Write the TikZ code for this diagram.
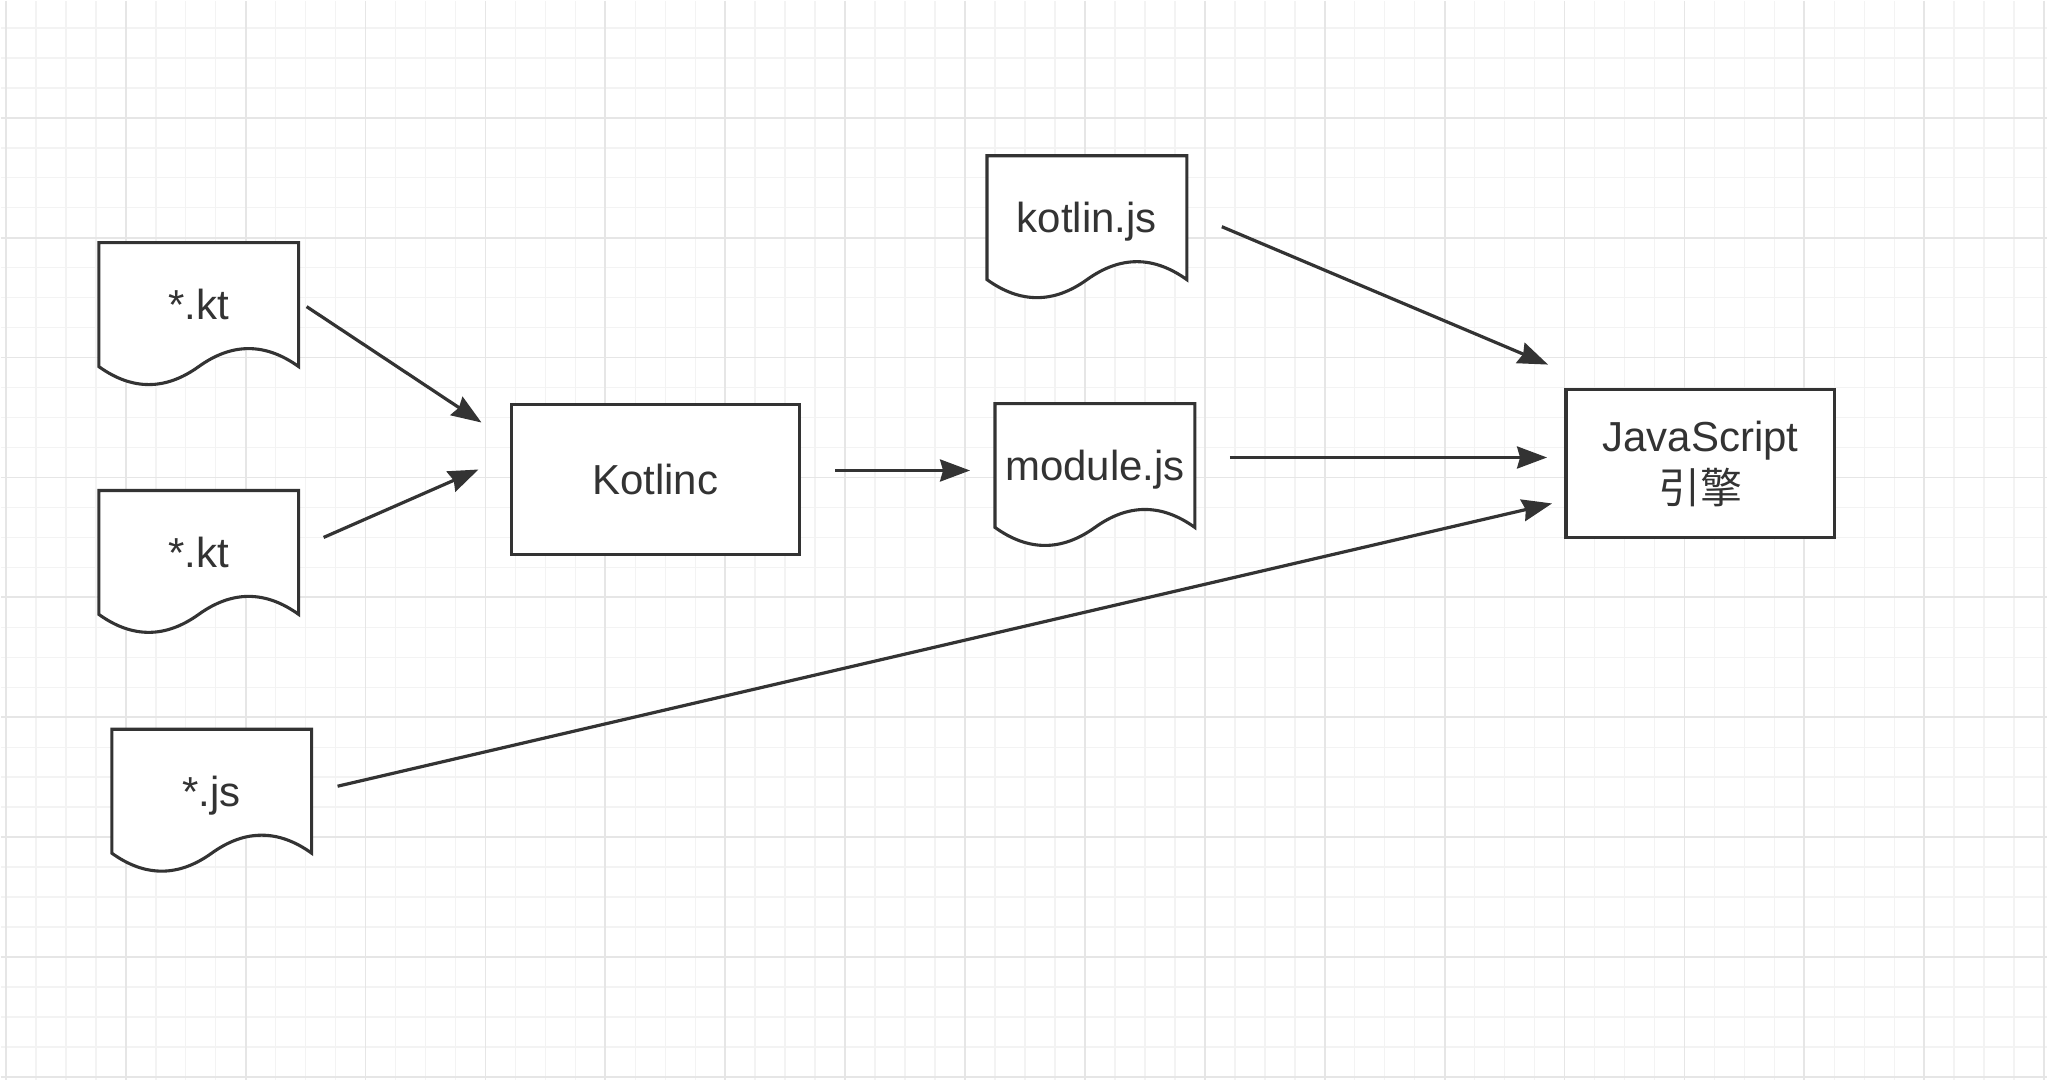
\documentclass[tikz,border=0pt]{standalone}
\usepackage{fontspec}
\setmainfont{Liberation Sans}
\newfontfamily\cjk{Noto Sans CJK SC}
\usetikzlibrary{arrows.meta,calc}
\definecolor{ink}{HTML}{333333}
\definecolor{gridminor}{HTML}{F3F3F3}
\definecolor{gridmajor}{HTML}{E6E6E6}
\pgfdeclarelayer{paper}
\pgfdeclarelayer{sheet}
\pgfsetlayers{paper,sheet,main}

% document outline with wavy bottom edge
\newcommand{\docoutline}[1]{%
  \begin{pgfonlayer}{sheet}
    \fill[white] (#1.north west) -- (#1.north east) -- (#1.south east)
      .. controls ($(#1.south west)!0.833!(#1.south east)+(0,-24)$) and ($(#1.south west)!0.667!(#1.south east)+(0,-24)$) .. (#1.south)
      .. controls ($(#1.south west)!0.333!(#1.south east)+(0,24)$) and ($(#1.south west)!0.167!(#1.south east)+(0,24)$) .. (#1.south west) -- cycle;
  \end{pgfonlayer}
  \draw[docline] (#1.north west) -- (#1.north east) -- (#1.south east)
      .. controls ($(#1.south west)!0.833!(#1.south east)+(0,-24)$) and ($(#1.south west)!0.667!(#1.south east)+(0,-24)$) .. (#1.south)
      .. controls ($(#1.south west)!0.333!(#1.south east)+(0,24)$) and ($(#1.south west)!0.167!(#1.south east)+(0,24)$) .. (#1.south west) -- cycle;
}

\begin{document}
\begin{tikzpicture}[
  x=0.5pt, y=-0.5pt,
  label/.style={text=ink, font=\fontsize{21}{26}\selectfont},
  doc/.style={label, text depth=0pt, minimum width=100pt, minimum height=62pt, inner sep=0pt, outer sep=0pt},
  docline/.style={draw=ink, line width=1.55pt, line join=miter},
  box/.style={label, draw=ink, fill=white, line width=1.55pt, inner sep=0pt, outer sep=0pt, align=center},
  minorline/.style={gridminor, line width=0.75pt},
  majorline/.style={gridmajor, line width=0.9pt},
  arr/.style={-{Stealth[length=15pt, width=11pt, inset=1.5pt]}, ink, line width=1.6pt}
]
\begin{pgfonlayer}{paper}
  \fill[white] (0,0) rectangle (2048,1080);
  \foreach \gx in {5,35,...,2045} \draw[minorline] (\gx,0) -- (\gx,1080);
  \foreach \gy in {27,57,...,1077} \draw[minorline] (0,\gy) -- (2048,\gy);
  \foreach \gx in {5,125,...,2045} \draw[majorline] (\gx,0) -- (\gx,1080);
  \foreach \gy in {117,237,...,1077} \draw[majorline] (0,\gy) -- (2048,\gy);
\end{pgfonlayer}
\useasboundingbox (0,0) rectangle (2048,1080);

% sources
\node[doc] (kt1) at (198,304) {*.kt};
\node[doc] (kt2) at (198,552) {*.kt};
\node[doc] (js) at (211,791) {*.js};
\docoutline{kt1}
\docoutline{kt2}
\docoutline{js}

% compiler and outputs
\node[box, minimum width=144pt, minimum height=75pt] (kotlinc) at (655,479) {Kotlinc};
\node[doc] (kotlinjs) at (1087,217) {kotlin.js};
\node[doc] (modulejs) at (1095,465) {module.js};
\docoutline{kotlinjs}
\docoutline{modulejs}

\node[box, minimum width=134.5pt, minimum height=74.5pt] (engine) at (1701,463) {JavaScript\\{\cjk 引擎}};

\draw[arr] ([shift={(8,2)}]kt1.east) -- ([shift={(-30,-57)}]kotlinc.west);
\draw[arr] ([shift={(25,-15)}]kt2.east) -- ([shift={(-33,-10)}]kotlinc.west);
\draw[arr] ([shift={(36,-9)}]kotlinc.east) -- ([shift={(-25,5)}]modulejs.west);
\draw[arr] ([shift={(35,9)}]kotlinjs.east) -- ([shift={(-18,-99)}]engine.west);
\draw[arr] ([shift={(35,-8)}]modulejs.east) -- ([shift={(-19,-6)}]engine.west);
\draw[arr] ([shift={(26,-5)}]js.east) -- ([shift={(-14,40)}]engine.west);
\end{tikzpicture}
\end{document}
